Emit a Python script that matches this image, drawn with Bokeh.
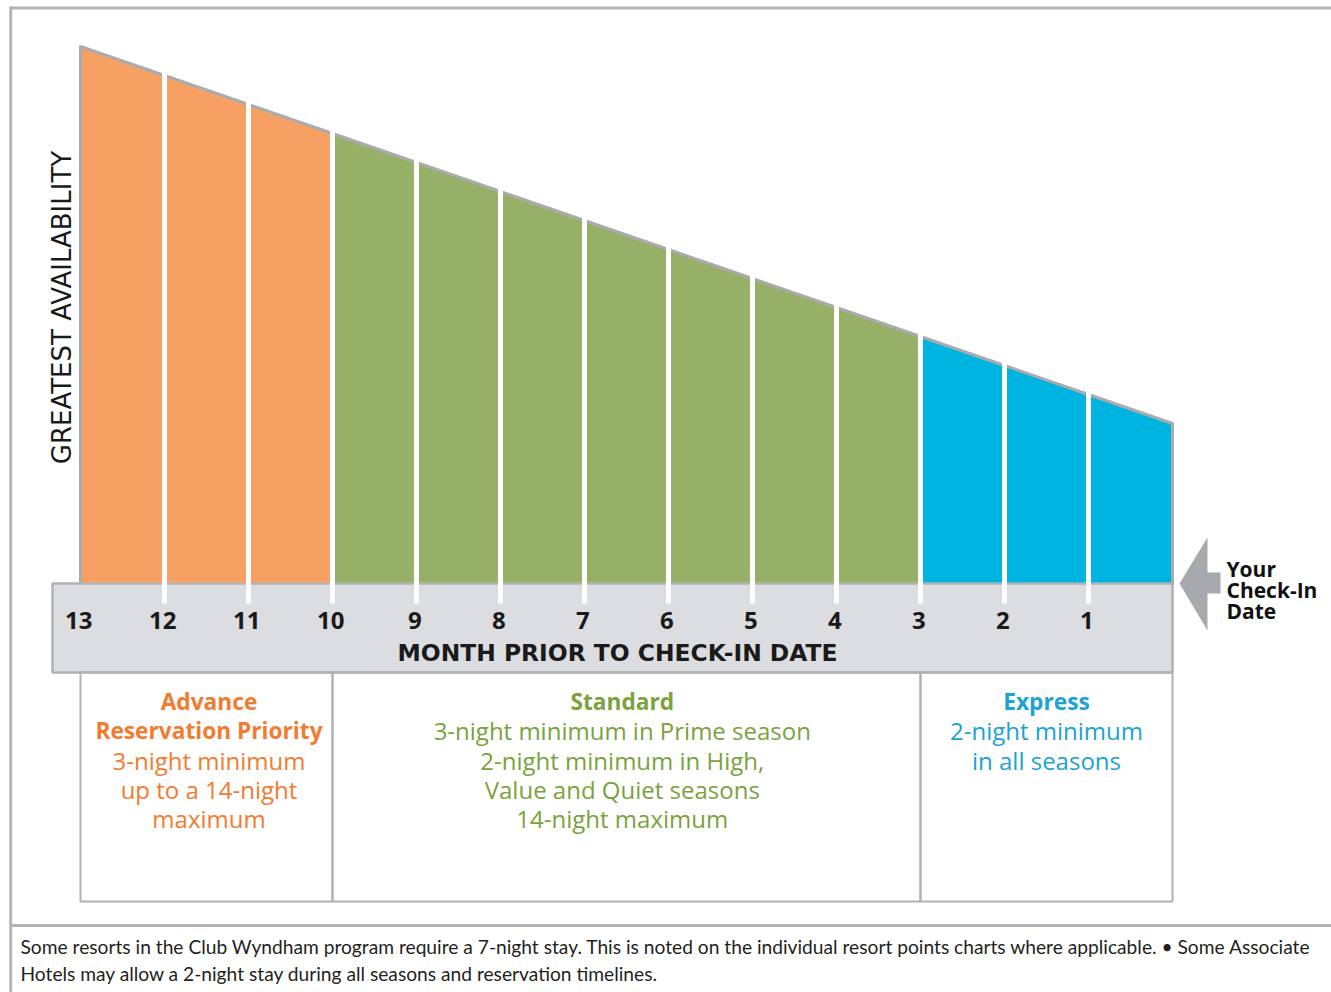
from bokeh.plotting import figure
from bokeh.models import Range1d
from bokeh.core.properties import value
from bokeh.embed import file_html
from bokeh.resources import INLINE

# ---- data ----
boundary_months = [13, 12, 11, 10, 9, 8, 7, 6, 5, 4, 3, 2, 1, 0]
availability = [536, 507, 478, 449, 420, 391, 362, 333, 304, 275, 246, 217, 188, 159]
segment_months = [13, 12, 11, 10, 9, 8, 7, 6, 5, 4, 3, 2, 1]
tick_labels = ["13", "12", "11", "10", "9", "8", "7", "6", "5", "4", "3", "2", "1"]
phases = [
    {"name": "advance", "start": 13, "end": 10, "fill": "#f7a064", "text": "#f37b2f",
     "title": ["Advance", "Reservation Priority"],
     "lines": ["3-night minimum", "up to a 14-night", "maximum"]},
    {"name": "standard", "start": 10, "end": 3, "fill": "#96b068", "text": "#7aa23d",
     "title": ["Standard"],
     "lines": ["3-night minimum in Prime season", "2-night minimum in High,",
               "Value and Quiet seasons", "14-night maximum"]},
    {"name": "express", "start": 3, "end": 0, "fill": "#00b4e1", "text": "#1aa3d3",
     "title": ["Express"],
     "lines": ["2-night minimum", "in all seasons"]},
]
footer = ["Some resorts in the Club Wyndham program require a 7-night stay. This is noted on the individual resort points charts where applicable. \u2022 Some Associate",
          "Hotels may allow a 2-night stay during all seasons and reservation timelines."]

avail_at = dict(zip(boundary_months, availability))

W, H = 1331, 992
p = figure(width=W, height=H, output_backend="svg", toolbar_location=None,
           x_range=Range1d(13.952, -1.893), y_range=Range1d(-410, 582),
           min_border=0)
p.axis.visible = False
p.grid.visible = False
p.outline_line_color = None
p.background_fill_color = "white"

GRAY = "#a9abae"

# outer frame
p.segment(x0=[13.83, 13.83], y0=[574.5, -343], x1=[-2.0, -2.0], y1=[574.5, -343],
          line_color="#b3b4b7", line_width=3)
p.segment(x0=[13.83], y0=[576], x1=[13.83], y1=[-420], line_color="#b3b4b7", line_width=3)

# month band
p.quad(left=[13.333], right=[0], top=[-1], bottom=[-90], fill_color="#dcdde0",
       line_color="#b0b1b4", line_width=2.5)

# availability segments
def phase_of(m):
    for ph in phases:
        if ph["start"] >= m > ph["end"]:
            return ph
xs, ys, cols = [], [], []
for m in segment_months:
    xs.append([m, m - 1, m - 1, m])
    ys.append([avail_at[m], avail_at[m - 1], 0, 0])
    cols.append(phase_of(m)["fill"])
p.patches(xs=xs, ys=ys, fill_color=cols, line_color=None)

# gray top edge and side edges
p.line(x=boundary_months, y=availability, line_color=GRAY, line_width=3)
p.segment(x0=[13], y0=[avail_at[13] + 1], x1=[13], y1=[0], line_color=GRAY, line_width=3)
p.segment(x0=[0], y0=[avail_at[0] + 1], x1=[0], y1=[-2], line_color=GRAY, line_width=3)

# white gaps between months
gap_m = boundary_months[1:-1]
p.segment(x0=gap_m, y0=[avail_at[m] + 6 for m in gap_m], x1=gap_m, y1=[-21] * len(gap_m),
          line_color="white", line_width=5)

# tick labels
p.text(x=[m + 0.02 for m in segment_months], y=[-38] * len(segment_months), text=tick_labels,
       text_font=value("Open Sans"), text_font_size="24px", text_font_style="bold",
       text_color="#1a1a1a", text_align="center", text_baseline="middle")
p.text(x=[6.607], y=[-70], text=["MONTH PRIOR TO CHECK-IN DATE"],
       text_font=value("DejaVu Sans"), text_font_size="23.4px", text_font_style="bold",
       text_color="#1a1a1a", text_align="center", text_baseline="middle")

# y title
p.text(x=[13.214], y=[275], text=["GREATEST AVAILABILITY"], angle=1.5708,
       text_font=value("DejaVu Sans"), text_font_size="26px",
       text_color="#1a1a1a", text_align="center", text_baseline="middle")

# phase boxes and descriptions
text_offsets = {"advance": -0.03, "standard": 0.05, "express": 0.0}
for ph in phases:
    p.quad(left=[ph["start"]], right=[ph["end"]], top=[-90], bottom=[-319],
           fill_color=None, line_color="#b0b1b4", line_width=2)
    cx = (ph["start"] + ph["end"]) / 2 + text_offsets[ph["name"]]
    ypos = -119
    for t in ph["title"]:
        p.text(x=[cx], y=[ypos], text=[t], text_font=value("Open Sans"), text_font_size="22.7px",
               text_font_style="bold", text_color=ph["text"], text_align="center",
               text_baseline="middle")
        ypos -= 29.3
    for t in ph["lines"]:
        p.text(x=[cx], y=[ypos], text=[t], text_font=value("Open Sans"), text_font_size="24px",
               text_color=ph["text"], text_align="center", text_baseline="middle")
        ypos -= 29.3

# check-in arrow
p.patch(x=[-0.0833, -0.4167, -0.4167, -0.5714, -0.5714, -0.4167, -0.4167],
        y=[-1, 45, 10, 10, -11, -11, -48], fill_color="#a7a9ac", line_color=None)
p.text(x=[-0.643] * 3, y=[14, -7, -28], text=["Your", "Check-In", "Date"],
       text_font=value("Open Sans"), text_font_size="21px", text_font_style="bold",
       text_color="#111111", text_align="left", text_baseline="middle")

# footer
p.text(x=[13.714] * 2, y=[-364, -391], text=footer, text_font=value("Lato"),
       text_font_size="19.2px", text_color="#231f20", text_align="left", text_baseline="middle")

open("out.html", "w").write(file_html(p, INLINE))
